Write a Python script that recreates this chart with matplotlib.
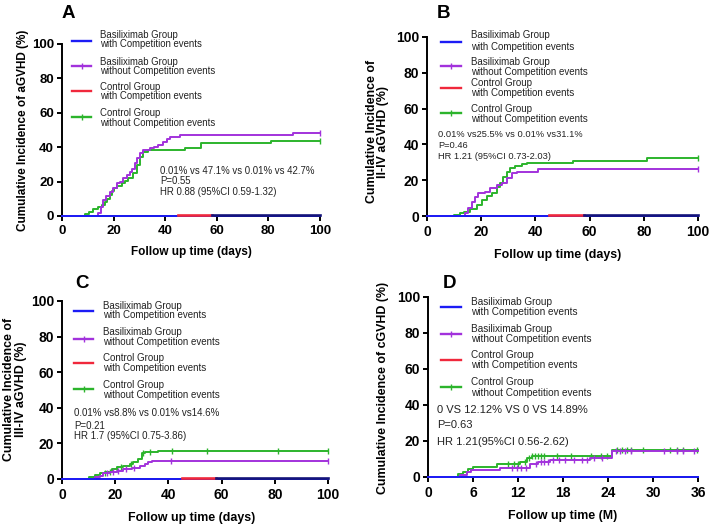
import numpy as np
import matplotlib
matplotlib.use('Agg')
import matplotlib.pyplot as plt

plt.rcParams['font.family'] = ['Liberation Sans', 'DejaVu Sans']

# ---------------- data ----------------
legend_labels = [
    ("Basiliximab Group", "with Competition events"),
    ("Basiliximab Group", "without Competition events"),
    ("Control Group", "with Competition events"),
    ("Control Group", "without Competition events"),
]

# Panel A: aGVHD
a_bas_t = [0, 14, 15, 16, 17, 18.5, 19.9, 21.2, 22.5, 23.8, 25, 26.4, 27.3, 28.3, 29.2, 30.2,
           31.5, 34.1, 35.5, 37.3, 39.3, 40.6, 42, 45.7, 89.5, 100]
a_bas_v = [0, 2, 5, 9.3, 11.5, 14, 16, 19, 20, 21.9, 24, 25.8, 27.5, 30.6, 33.5, 36.4,
           38.4, 39.3, 40, 41.3, 43.2, 45, 46.1, 47.1, 48, 48]
a_ctl_t = [0, 8.9, 10.5, 12.1, 14, 15.5, 16.6, 17.5, 18.5, 19.3, 20.2, 21.2, 23.1, 24.5, 25.7,
           27.6, 28.9, 30.2, 31.5, 33.5, 47.5, 54, 81, 100]
a_ctl_v = [0, 1, 2.5, 3.9, 5, 6.5, 8, 10, 12.2, 14.7, 16, 17.4, 19, 20.5, 21.9,
           24.8, 29.7, 34.5, 37.4, 38.4, 39.8, 42.5, 43.5, 43.5]
a_bas_cens = [100]
a_ctl_cens = [100]

# Panel B: II-IV aGVHD
b_bas_t = [0, 14, 15.2, 16.5, 17.7, 18.9, 21.4, 23.2, 25.7, 27.6, 29.4, 31.3, 33.1, 41, 100]
b_bas_v = [0, 1.5, 4.3, 8, 10.8, 12.7, 13.6, 15.5, 17.3, 18.6, 21, 23.8, 24.8, 26, 26]
b_ctl_t = [0, 10, 12, 13.5, 15.9, 18.3, 20.2, 22, 23.9, 25.7, 26.9, 28.2, 29.4, 30.6, 32.5,
           34.9, 36.8, 54, 81, 100]
b_ctl_v = [0, 0.5, 1.5, 2.5, 3.7, 6.1, 8.9, 11.2, 13, 16, 18.3, 22, 24.8, 26.6, 27.9,
           29, 29.8, 30.9, 32.2, 32.2]
b_bas_cens = [100]
b_ctl_cens = [100]

# Panel C: III-IV aGVHD
c_bas_t = [0, 12.4, 14.3, 15.5, 18, 20.6, 23, 26.2, 29.3, 31.2, 32.4, 34, 100]
c_bas_v = [0, 1, 1.8, 3.2, 3.8, 4.7, 5.4, 6.4, 7.3, 8.4, 9.7, 10.2, 10.2]
c_ctl_t = [0, 10.3, 12.4, 14.3, 16.2, 18.7, 20.6, 23, 25.6, 26.8, 28.7, 30, 31.2, 36.2, 100]
c_ctl_v = [0, 1, 2.2, 3.2, 4.1, 5.4, 6.6, 7.3, 8.4, 9.7, 11, 14.4, 15, 15.7, 15.7]
c_bas_cens = [17, 19, 21, 24, 27, 41, 100]
c_ctl_cens = [16, 18, 20.5, 22, 26, 30.6, 33.1, 41.2, 54.4, 81.3, 100]

# Panel D: cGVHD (months)
d_bas_t = [0, 4.3, 5.2, 5.8, 9.6, 13.6, 14.7, 16.3, 21.6, 24.5, 36]
d_bas_v = [0, 1, 2.6, 3.9, 5.2, 7, 8.1, 9.4, 10.7, 14.4, 14.4]
d_ctl_t = [0, 4.0, 4.7, 5.4, 6.0, 9.2, 12.3, 13.2, 13.8, 24.5, 36]
d_ctl_v = [0, 1.5, 2.9, 4.4, 5.7, 7, 8.5, 10.4, 11.9, 15, 15]
d_bas_cens = [11.2, 11.8, 12.4, 13.1, 14.4, 15.1, 15.5, 16, 16.7, 17.4, 18.3, 19.4, 20.5,
              21.2, 22.1, 23.2, 25, 25.6, 26.3, 27, 31.4, 33.2, 34, 35.4]
d_ctl_cens = [10.7, 11.4, 12, 12.9, 13.4, 13.8, 14.2, 14.6, 15.0, 15.4, 17.2, 19, 21.7, 23,
              23.9, 25.2, 25.9, 26.5, 27, 28.7, 32.3, 33.2, 34, 35.9]

# competing-event curves (flat at zero)
comp_bas_t = [0, 100]
comp_ctl_t = [45, 58]
comp_overlap_t = [58, 100]
d_comp_bas_t = [0, 36]

annotations = {
    'A': ["0.01% vs 47.1% vs 0.01% vs 42.7%", "P=0.55", "HR 0.88 (95%CI 0.59-1.32)"],
    'B': ["0.01% vs25.5% vs 0.01% vs31.1%", "P=0.46", "HR 1.21 (95%CI 0.73-2.03)"],
    'C': ["0.01% vs8.8% vs 0.01% vs14.6%", "P=0.21", "HR 1.7 (95%CI 0.75-3.86)"],
    'D': ["0 VS 12.12% VS 0 VS 14.89%", "P=0.63", "HR 1.21(95%CI 0.56-2.62)"],
}
ylabels = {
    'A': ["Cumulative Incidence of aGVHD (%)"],
    'B': ["Cumulative Incidence of", "II-IV aGVHD (%)"],
    'C': ["Cumulative Incidence of", "III-IV aGVHD (%)"],
    'D': ["Cumulative Incidence of cGVHD (%)"],
}
xlabels = {'A': "Follow up time (days)", 'B': "Follow up time (days)",
           'C': "Follow up time (days)", 'D': "Follow up time (M)"}

# ---------------- style ----------------
BLUE = '#1c1cf5'
PURPLE = '#a232dc'
RED = '#f0283c'
GREEN = '#2cb42c'
NAVY = '#14147a'
colors = [BLUE, PURPLE, RED, GREEN]

W, H = 709, 526
fig = plt.figure(figsize=(W / 100, H / 100), dpi=100)


def fx(x):
    return x / W


def fy(y):
    return 1 - y / H


def add_axes(x0, y0, x1, y1):
    return fig.add_axes([fx(x0), fy(y1), fx(x1) - fx(x0), fy(y0) - fy(y1)])


def step_value(t, v, c):
    t = np.asarray(t)
    v = np.asarray(v)
    idx = np.searchsorted(t, c, side='right') - 1
    return v[np.clip(idx, 0, len(v) - 1)]


panels = {
    'A': dict(rect=(62, 44, 320, 216), xmax=100, xticks=[0, 20, 40, 60, 80, 100],
              bas=(a_bas_t, a_bas_v, a_bas_cens), ctl=(a_ctl_t, a_ctl_v, a_ctl_cens), red=True,
              letter=(68, 13), ylab_x=[22.7], ylab_y=130, xlab=(191, 252), lab_fs=8.5, tick_fs=9.5,
              leg=dict(hx=(72, 91), tx=100, hy=[40.7, 66, 90.7, 116.7],
                       ty=[(35, 44.3), (61.7, 70.7), (86.7, 96), (113.3, 122.7)], fs=6.9),
              ann=dict(x=160, y=[171, 181, 192], fs=6.9)),
    'B': dict(rect=(427, 37, 698, 216), xmax=100, xticks=[0, 20, 40, 60, 80, 100],
              bas=(b_bas_t, b_bas_v, b_bas_cens), ctl=(b_ctl_t, b_ctl_v, b_ctl_cens), red=True,
              letter=(443, 13), ylab_x=[371.7, 383.3], ylab_y=131.7, xlab=(558, 255), lab_fs=8.9,
              tick_fs=10,
              leg=dict(hx=(441, 461), tx=471, hy=[41.7, 66, 88.3, 113.3],
                       ty=[(35, 46.7), (61.7, 71.7), (83.3, 93.3), (109.3, 119.3)], fs=7.0),
              ann=dict(x=438, y=[134.3, 146, 156.7], fs=6.7)),
    'C': dict(rect=(62, 301, 328, 479), xmax=100, xticks=[0, 20, 40, 60, 80, 100],
              bas=(c_bas_t, c_bas_v, c_bas_cens), ctl=(c_ctl_t, c_ctl_v, c_ctl_cens), red=True,
              letter=(82, 283), ylab_x=[9.3, 20.7], ylab_y=389, xlab=(192, 518), lab_fs=8.9,
              tick_fs=10,
              leg=dict(hx=(74, 93), tx=103, hy=[311.3, 339, 363, 389],
                       ty=[(305.7, 315.3), (332.3, 342.3), (358.3, 368), (384.7, 394.7)], fs=7.0),
              ann=dict(x=74, y=[413, 425.7, 436.3], fs=7.0)),
    'D': dict(rect=(428, 297, 698, 477), xmax=36, xticks=[0, 6, 12, 18, 24, 30, 36],
              bas=(d_bas_t, d_bas_v, d_bas_cens), ctl=(d_ctl_t, d_ctl_v, d_ctl_cens), red=False,
              letter=(449, 283), ylab_x=[383.3], ylab_y=388, xlab=(563, 516), lab_fs=8.9,
              tick_fs=10,
              leg=dict(hx=(441, 461), tx=471, hy=[306.7, 333.7, 359.7, 387],
                       ty=[(302, 312.3), (328.7, 339.3), (354.7, 365.3), (382.3, 393)], fs=7.2),
              ann=dict(x=436.7, y=[409.7, 425.3, 442], fs=8.0)),
}

for key, p in panels.items():
    ax = add_axes(*p['rect'])
    xmax = p['xmax']
    ax.set_xlim(0, xmax)
    ax.set_ylim(0, 100)
    for s in ['top', 'right']:
        ax.spines[s].set_visible(False)
    for s in ['left', 'bottom']:
        ax.spines[s].set_linewidth(1.4)
    ax.set_xticks(p['xticks'])
    ax.set_yticks([0, 20, 40, 60, 80, 100])
    ax.tick_params(axis='both', direction='out', length=3.8, width=1.4,
                   labelsize=p['tick_fs'])
    ax.tick_params(axis='x', pad=2.5)
    ax.tick_params(axis='y', pad=2)
    for lab in ax.get_xticklabels() + ax.get_yticklabels():
        lab.set_fontweight('bold')

    # competing-event curves at zero
    if key == 'D':
        ax.plot(d_comp_bas_t, [0] * len(d_comp_bas_t), color=BLUE, lw=1.4, clip_on=False, zorder=5)
    else:
        ax.plot(comp_bas_t, [0] * len(comp_bas_t), color=BLUE, lw=1.4, clip_on=False, zorder=5)
        ax.plot(comp_ctl_t, [0.4] * len(comp_ctl_t), color=RED, lw=1.9, clip_on=False, zorder=6)
        ax.plot(comp_overlap_t, [0.3] * len(comp_overlap_t), color=NAVY, lw=1.9, clip_on=False,
                zorder=6)

    # curves without competition
    for (t, v, cens), col in [(p['ctl'], GREEN), (p['bas'], PURPLE)]:
        ax.step(t, v, where='post', color=col, lw=1.4, clip_on=False, zorder=4)
        cy = step_value(t, v, cens)
        ax.plot(cens, cy, linestyle='none', marker='|', color=col, ms=4.0, mew=1.0,
                clip_on=False, zorder=4)

    # legend (drawn manually)
    lg = p['leg']
    for i, col in enumerate(colors):
        yy = fy(lg['hy'][i])
        fig.add_artist(plt.Line2D([fx(lg['hx'][0]), fx(lg['hx'][1])], [yy, yy],
                                  color=col, lw=1.7, transform=fig.transFigure))
        if i in (1, 3):
            xm = fx((lg['hx'][0] + lg['hx'][1]) / 2)
            fig.add_artist(plt.Line2D([xm], [yy], marker='|', ms=4.0, mew=1.0, color=col,
                                      linestyle='none', transform=fig.transFigure))
        for j, line in enumerate(legend_labels[i]):
            fig.text(fx(lg['tx']), fy(lg['ty'][i][j]), line, fontsize=lg['fs'],
                     ha='left', va='center', color='#222222')

    # annotation
    an = p['ann']
    for j, line in enumerate(annotations[key]):
        fig.text(fx(an['x']), fy(an['y'][j]), line, fontsize=an['fs'], ha='left',
                 va='center', color='#222222')

    # panel letter
    fig.text(fx(p['letter'][0]), fy(p['letter'][1]), key, fontsize=13.5, fontweight='bold',
             ha='center', va='center')

    # axis labels
    for j, line in enumerate(ylabels[key]):
        fig.text(fx(p['ylab_x'][j]), fy(p['ylab_y']), line, rotation=90, fontsize=p['lab_fs'],
                 fontweight='bold', ha='center', va='center')
    fig.text(fx(p['xlab'][0]), fy(p['xlab'][1]), xlabels[key], fontsize=p['lab_fs'],
             fontweight='bold', ha='center', va='center')

fig.savefig('out.png', dpi=100)
